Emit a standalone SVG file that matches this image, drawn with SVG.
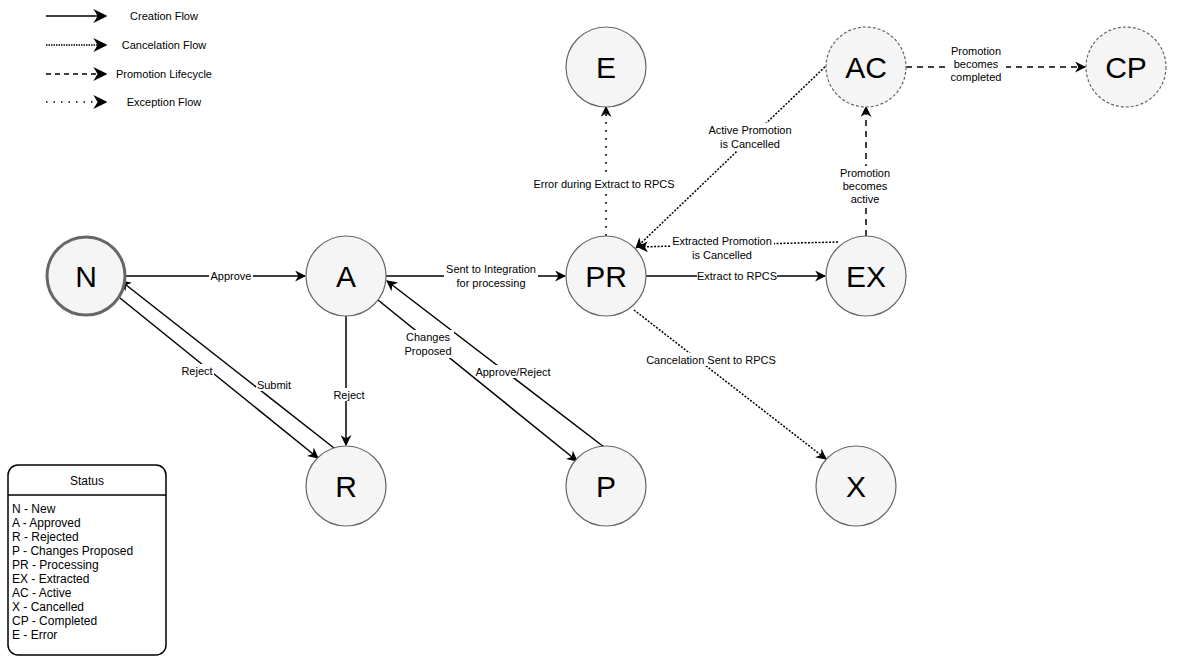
<svg xmlns="http://www.w3.org/2000/svg" width="1178" height="661" viewBox="0 0 1178 661">
<style>
.n{fill:#f5f5f5;stroke:#666;stroke-width:1.2}
.nt{font-family:"Liberation Sans",Arial,sans-serif;font-size:30px;text-anchor:middle;fill:#000}
.e{fill:none;stroke:#000;stroke-width:1.5}
.cr{marker-end:url(#ah)}
.ca{stroke-dasharray:2 1.5;marker-end:url(#ah)}
.pl{stroke-dasharray:6 5;marker-end:url(#ah)}
.ex{stroke-dasharray:2 6;marker-end:url(#ah)}
.l{font-family:"Liberation Sans",Arial,sans-serif;font-size:11px;text-anchor:middle;fill:#000}
.lb{fill:#fff}
.s{font-family:"Liberation Sans",Arial,sans-serif;font-size:12px;fill:#000}
</style>
<defs>
<marker id="ah" viewBox="0 0 10 10" refX="9" refY="5" markerWidth="11" markerHeight="11" orient="auto" markerUnits="userSpaceOnUse">
<path d="M0,0 L10,5 L0,10 L3,5 Z" fill="#000" stroke="none"/>
</marker>
<marker id="al" viewBox="0 0 10 10" refX="9" refY="5" markerWidth="14" markerHeight="14" orient="auto" markerUnits="userSpaceOnUse">
<path d="M0,0 L10,5 L0,10 L3,5 Z" fill="#000" stroke="none"/>
</marker>
</defs>
<g id="legend">
<line x1="46" y1="16" x2="106" y2="16" class="e" style="marker-end:url(#al)"/>
<line x1="46" y1="45" x2="106" y2="45" class="e" style="stroke-dasharray:1.5 1;marker-end:url(#al)"/>
<line x1="46" y1="74" x2="106" y2="74" class="e" style="stroke-dasharray:5 4;marker-end:url(#al)"/>
<line x1="46" y1="102" x2="106" y2="102" class="e" style="stroke-dasharray:1.5 6;marker-end:url(#al)"/>
<text x="164" y="20" class="l">Creation Flow</text>
<text x="164" y="49" class="l">Cancelation Flow</text>
<text x="164" y="78" class="l">Promotion Lifecycle</text>
<text x="164" y="106" class="l">Exception Flow</text>
</g>
<g id="connectors">
<line x1="126" y1="276" x2="305" y2="276" class="e cr"/>
<line x1="120" y1="298" x2="318" y2="458" class="e cr"/>
<line x1="334" y1="448" x2="121" y2="281" class="e cr"/>
<line x1="346" y1="316" x2="346" y2="445" class="e cr"/>
<line x1="386" y1="276" x2="565" y2="276" class="e cr"/>
<line x1="378" y1="300" x2="577" y2="461" class="e cr"/>
<line x1="604" y1="447" x2="387" y2="281" class="e cr"/>
<line x1="646" y1="276" x2="825" y2="276" class="e cr"/>
<line x1="606" y1="236" x2="606" y2="107" class="e ex"/>
<line x1="830" y1="62" x2="636" y2="248" class="e ca"/>
<path d="M838,242 L638,247" class="e ca"/>
<line x1="866" y1="236" x2="866" y2="107" class="e pl"/>
<line x1="906" y1="67" x2="1085" y2="67" class="e pl"/>
<line x1="634" y1="310" x2="826" y2="459" class="e ca"/>
<g class="l">
<rect x="209" y="269" width="44" height="13" class="lb"/><text x="231" y="280">Approve</text>
<rect x="180" y="364" width="34" height="13" class="lb"/><text x="197" y="375">Reject</text>
<rect x="256" y="378" width="36" height="13" class="lb"/><text x="274" y="389">Submit</text>
<rect x="332" y="388" width="34" height="13" class="lb"/><text x="349" y="399">Reject</text>
<rect x="444" y="262" width="94" height="28" class="lb"/><text x="491" y="273">Sent to Integration</text><text x="491" y="287">for processing</text>
<rect x="402" y="330" width="52" height="28" class="lb"/><text x="428" y="341">Changes</text><text x="428" y="355">Proposed</text>
<rect x="476" y="365" width="74" height="13" class="lb"/><text x="513" y="376">Approve/Reject</text>
<rect x="697" y="269" width="80" height="13" class="lb"/><text x="737" y="280">Extract to RPCS</text>
<rect x="532" y="177" width="144" height="13" class="lb"/><text x="604" y="188">Error during Extract to RPCS</text>
<rect x="710" y="123" width="80" height="28" class="lb"/><text x="750" y="134">Active Promotion</text><text x="750" y="148">is Cancelled</text>
<rect x="670" y="234" width="104" height="28" class="lb"/><text x="722" y="245">Extracted Promotion</text><text x="722" y="259">is Cancelled</text>
<rect x="836" y="166" width="60" height="40" class="lb"/><text x="865" y="177">Promotion</text><text x="865" y="190">becomes</text><text x="865" y="203">active</text>
<rect x="946" y="44" width="60" height="40" class="lb"/><text x="976" y="55">Promotion</text><text x="976" y="68">becomes</text><text x="976" y="81">completed</text>
<rect x="644" y="353" width="134" height="13" class="lb"/><text x="711" y="364">Cancelation Sent to RPCS</text>
</g>
</g>
<g id="N"><circle cx="86" cy="276" r="39" class="n" style="stroke-width:3"/><text x="86" y="287" class="nt">N</text></g>
<g id="A"><circle cx="346" cy="276" r="40" class="n"/><text x="346" y="287" class="nt">A</text></g>
<g id="PR"><circle cx="606" cy="276" r="40" class="n"/><text x="606" y="287" class="nt">PR</text></g>
<g id="EX"><circle cx="866" cy="276" r="40" class="n"/><text x="866" y="287" class="nt">EX</text></g>
<g id="E"><circle cx="606" cy="67" r="40" class="n"/><text x="606" y="78" class="nt">E</text></g>
<g id="AC"><circle cx="866" cy="67" r="40" class="n" style="stroke-dasharray:3 2"/><text x="866" y="78" class="nt">AC</text></g>
<g id="CP"><circle cx="1126" cy="67" r="40" class="n" style="stroke-dasharray:3 2"/><text x="1126" y="78" class="nt">CP</text></g>
<g id="R"><circle cx="346" cy="486" r="40" class="n"/><text x="346" y="497" class="nt">R</text></g>
<g id="P"><circle cx="606" cy="486" r="40" class="n"/><text x="606" y="497" class="nt">P</text></g>
<g id="X"><circle cx="856" cy="486" r="40" class="n"/><text x="856" y="497" class="nt">X</text></g>
<g id="status">
<rect x="8" y="465" width="158" height="190" rx="10" fill="#fff" stroke="#000" stroke-width="1.5"/>
<line x1="8" y1="495" x2="166" y2="495" stroke="#000" stroke-width="1.5"/>
<text x="87" y="485" class="s" text-anchor="middle">Status</text>
<text class="s"><tspan x="12" y="513">N - New</tspan><tspan x="12" y="527">A - Approved</tspan><tspan x="12" y="541">R - Rejected</tspan><tspan x="12" y="555">P - Changes Proposed</tspan><tspan x="12" y="569">PR - Processing</tspan><tspan x="12" y="583">EX - Extracted</tspan><tspan x="12" y="597">AC - Active</tspan><tspan x="12" y="611">X - Cancelled</tspan><tspan x="12" y="625">CP - Completed</tspan><tspan x="12" y="639">E - Error</tspan></text>
</g>
</svg>
